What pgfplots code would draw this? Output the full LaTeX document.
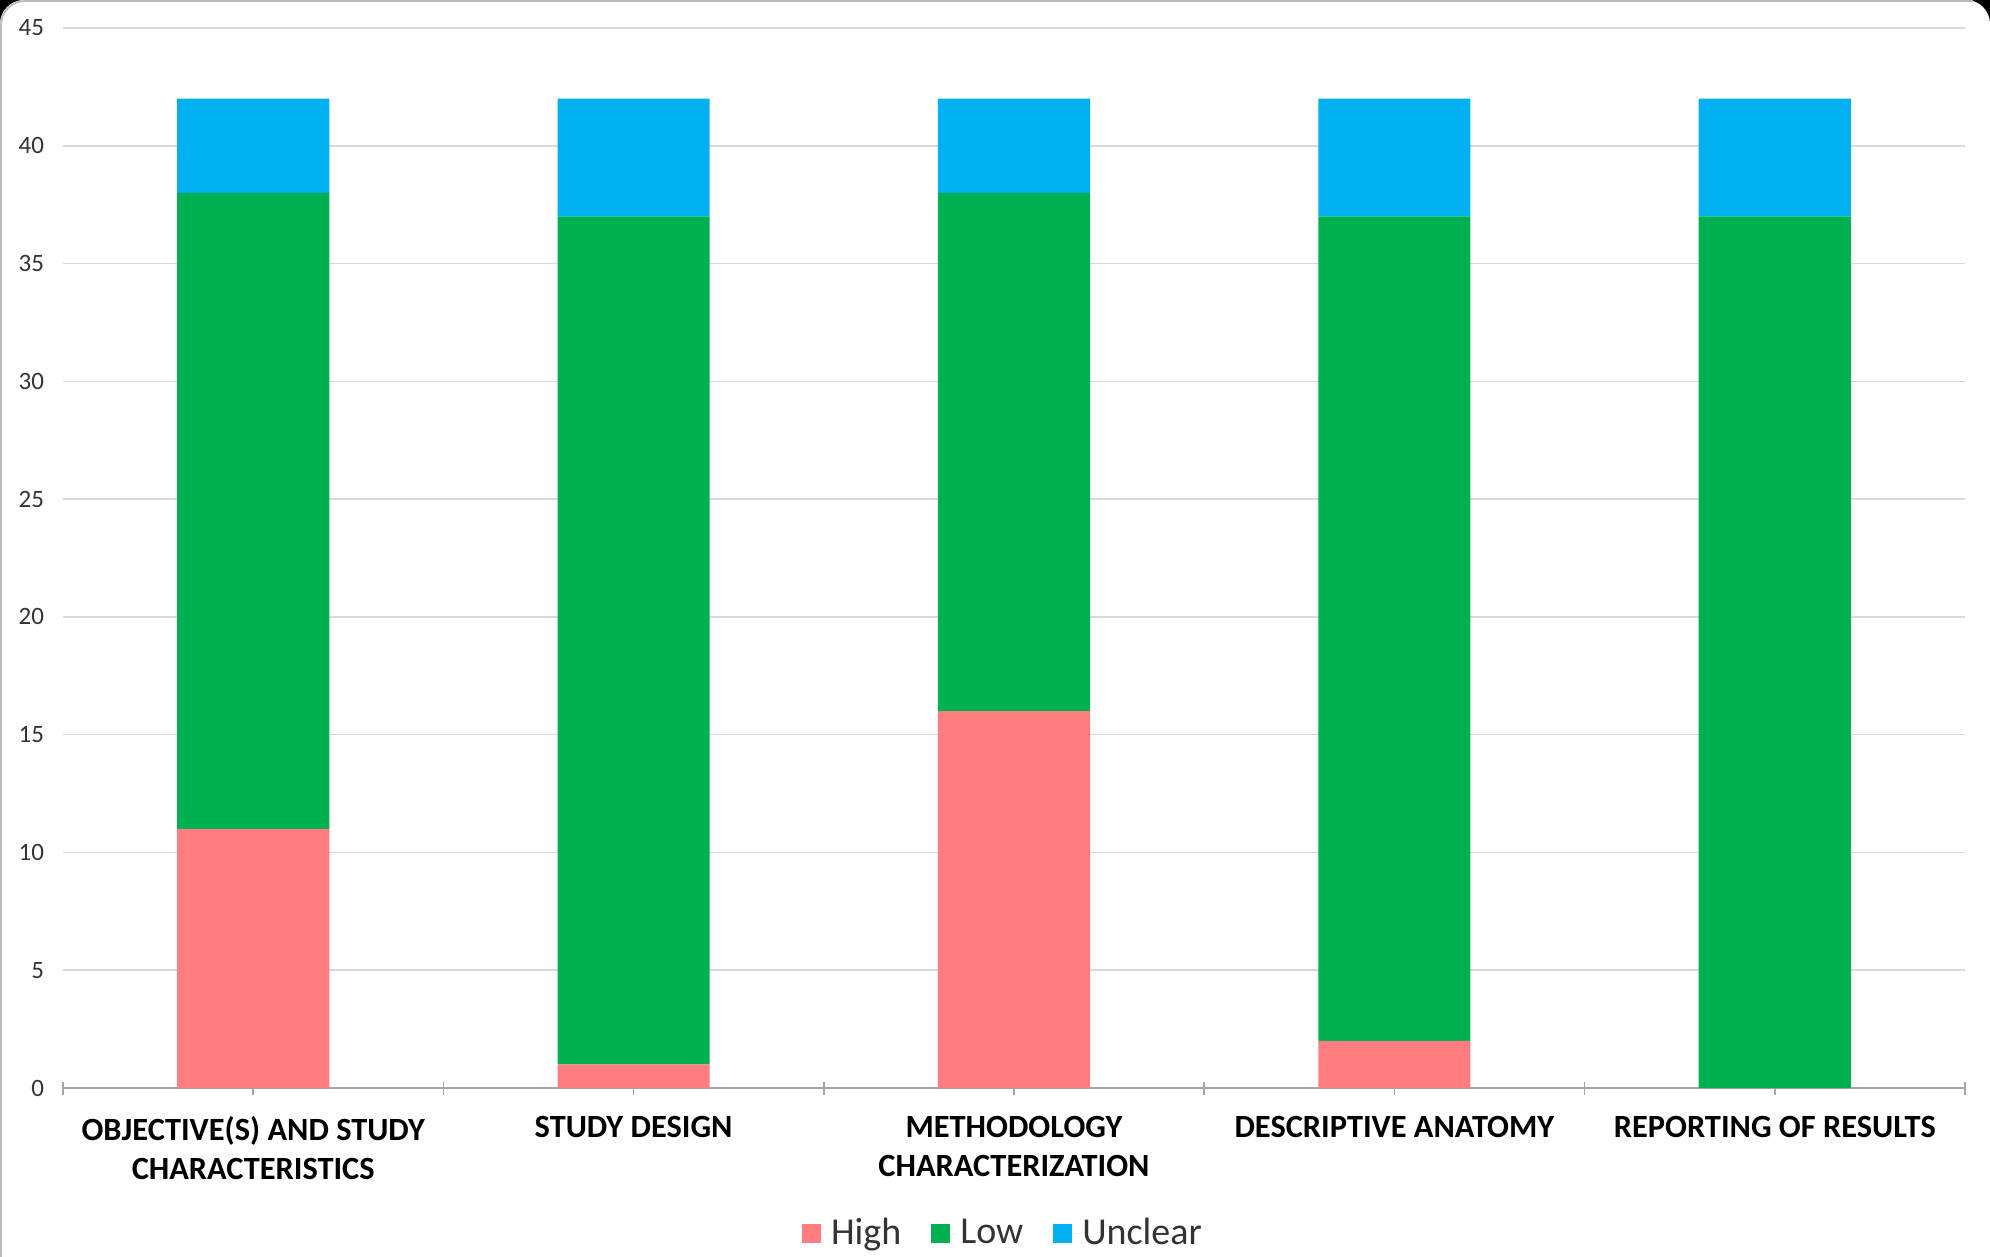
\documentclass[border=0pt]{standalone}
\usepackage{fontspec}
\setmainfont{Carlito}
\usepackage{pgfplots}
\pgfplotsset{compat=1.18}
\usetikzlibrary{backgrounds}

\definecolor{riskhigh}{HTML}{FF7C80}
\definecolor{risklow}{HTML}{00B050}
\definecolor{riskunclear}{HTML}{00B0F0}
\definecolor{gridgray}{HTML}{D9D9D9}
\definecolor{axisgray}{HTML}{A6A6A6}
\definecolor{labelgray}{HTML}{333333}

\begin{document}
\begin{tikzpicture}[x=0.5pt,y=0.5pt]
\begin{axis}[
  scale only axis, width=951pt, height=530pt,
  xmin=-0.5, xmax=4.5, ymin=0, ymax=45,
  ybar stacked, bar width=0.4,
  axis x line*=bottom, axis y line*=left,
  x axis line style={axisgray, line width=0.75pt, -},
  y axis line style={draw=none},
  ymajorgrids, grid style={gridgray, line width=0.75pt},
  ytick={0,5,...,45},
  ytick style={draw=none},
  xtick={0,1,2,3,4},
  xticklabels={{OBJECTIVE(S) AND STUDY\\CHARACTERISTICS},{STUDY DESIGN},{METHODOLOGY\\CHARACTERIZATION},{DESCRIPTIVE ANATOMY},{REPORTING OF RESULTS}},
  extra x ticks={-0.5,0.5,1.5,2.5,3.5,4.5},
  extra x tick labels={},
  xtick align=center,
  major tick length=6.5pt,
  x tick style={axisgray, line width=0.75pt},
  /pgf/number format/assume math mode=true,
  yticklabel style={font=\fontsize{12.5}{15}\selectfont, text=labelgray, xshift=-6pt},
  xticklabel style={font=\bfseries\fontsize{16.2}{19.2}\selectfont, align=center, text=black, yshift=-7.5pt},
  legend style={at={(0.4947,-0.1368)}, anchor=center, draw=none, fill=none,
    legend columns=-1, font=\fontsize{19}{23}\selectfont, text=labelgray,
    /tikz/every even column/.append style={column sep=13pt}},
  legend image code/.code={\fill[#1] (0pt,-4.75pt) rectangle (9.5pt,4.75pt);
    \path (0pt,0pt) -- (12.5pt,0pt);},
]
\addplot[fill=riskhigh, draw=none] coordinates {(0,11) (1,1) (2,16) (3,2) (4,0)};
\addplot[fill=risklow, draw=none] coordinates {(0,27) (1,36) (2,22) (3,35) (4,37)};
\addplot[fill=riskunclear, draw=none] coordinates {(0,4) (1,5) (2,4) (3,5) (4,5)};
\legend{High, Low, Unclear}
\end{axis}
% panel with rounded top corners on a dark backdrop
\begin{pgfonlayer}{background}
\fill[black] (-63,-169) rectangle (1927,1088);
\fill[white,rounded corners=12pt] (-63,-220) -- (-63,1088) -- (1927,1088) -- (1927,-220) -- cycle;
\draw[gray!55,line width=0.9pt,rounded corners=12pt] (-62,-220) -- (-62,1087) -- (1910,1087);
\end{pgfonlayer}
\pgfresetboundingbox
\path[use as bounding box] (-63,-169) rectangle (1927,1088);
\end{tikzpicture}
\end{document}
